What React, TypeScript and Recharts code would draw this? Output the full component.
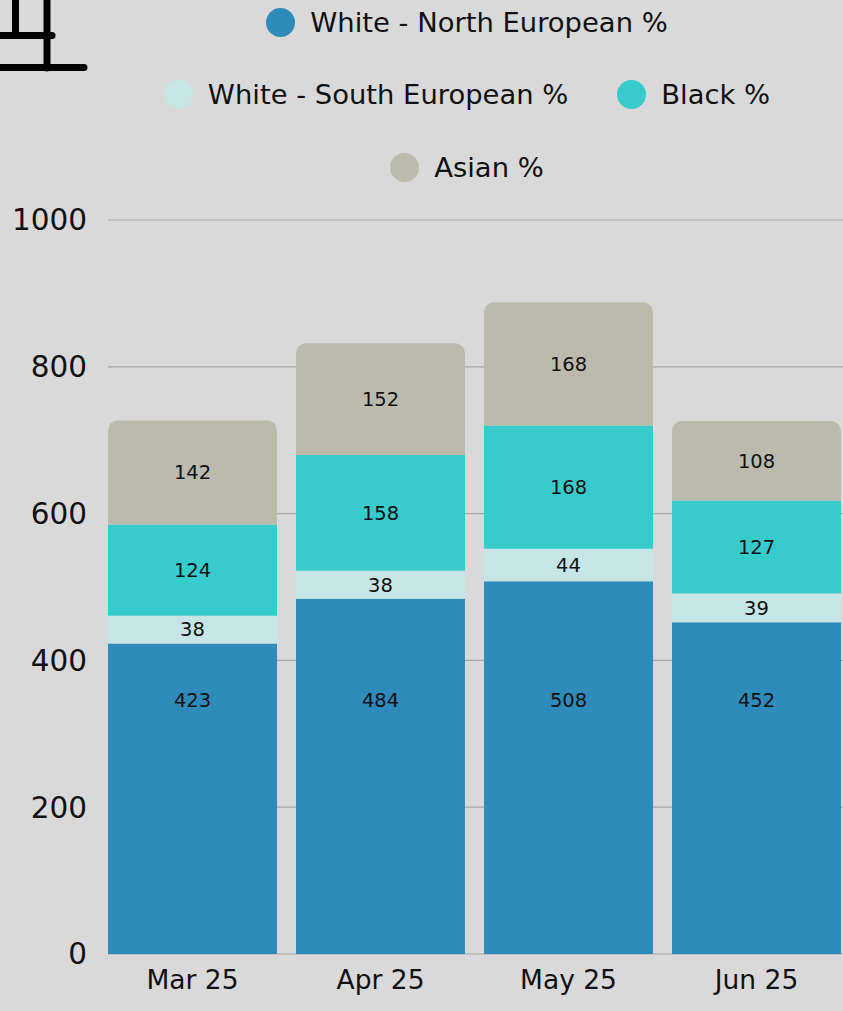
import React from "react";
import { BarChart, Bar, XAxis, YAxis, CartesianGrid, LabelList } from "recharts";

const months = ["Mar 25", "Apr 25", "May 25", "Jun 25"];
const northEuropean = [423, 484, 508, 452];
const southEuropean = [38, 38, 44, 39];
const black = [124, 158, 168, 127];
const asian = [142, 152, 168, 108];
const yTicks = [0, 200, 400, 600, 800, 1000];
// the first series' labels all sit at the same height in the reference
const northLabelLevel = 346;

const seriesNames = ["White - North European %", "White - South European %", "Black %", "Asian %"];
const seriesKeys = ["north", "south", "black", "asian"];
const seriesColors = ["#2E8BBA", "#C6E5E7", "#38CBCB", "#BCBAAD"];
const legendRows = [[0], [1, 2], [3]];

const data = months.map((m, i) => ({
  month: m,
  north: northEuropean[i],
  south: southEuropean[i],
  black: black[i],
  asian: asian[i],
}));

const FONT = "'DejaVu Sans', sans-serif";

const NorthLabel = (props: any) => {
  const { x, y, width, height, value } = props;
  const bottom = y + height;
  const perUnit = height / value;
  const ly = bottom - northLabelLevel * perUnit;
  return (
    <text
      x={x + width / 2}
      y={ly}
      textAnchor="middle"
      dominantBaseline="central"
      fill="#111"
      fontSize={19.5}
      fontFamily={FONT}
    >
      {value}
    </text>
  );
};

export default function App() {
  return (
    <div style={{ position: "fixed", left: 0, top: 0, width: 843, height: 1011, background: "#D9D9D9", overflow: "hidden" }}>
      <style>{`html, body { overflow: hidden; background: #D9D9D9; }`}</style>
      <svg width={100} height={80} style={{ position: "absolute", left: 0, top: 0, zIndex: 5 }}>
        <g stroke="#000" strokeWidth={7} strokeLinecap="round" fill="none">
          <line x1={15.5} y1={-6} x2={15.5} y2={35} />
          <line x1={47} y1={-6} x2={47} y2={68} />
          <line x1={-6} y1={35.5} x2={52} y2={35.5} />
          <line x1={-6} y1={67.5} x2={84} y2={67.5} />
        </g>
      </svg>
      <div style={{ position: "absolute", left: 8, top: 8, width: 920, height: 1003 }}>
        <div
          style={{
            position: "absolute",
            left: 0,
            top: 0,
            width: 918,
            fontFamily: FONT,
            fontSize: 27.4,
            color: "#111",
          }}
        >
          {legendRows.map((row, ri) => (
            <div
              key={ri}
              style={{
                position: "absolute",
                left: 0,
                width: 918,
                top: 14 + ri * 72.5 - 18,
                height: 36,
                display: "flex",
                justifyContent: "center",
                alignItems: "center",
                gap: 49,
              }}
            >
              {row.map((si) => (
                <div key={si} style={{ display: "flex", alignItems: "center", whiteSpace: "nowrap" }}>
                  <div
                    style={{
                      width: 29,
                      height: 29,
                      borderRadius: "50%",
                      background: seriesColors[si],
                      marginRight: 15,
                    }}
                  />
                  <span>{seriesNames[si]}</span>
                </div>
              ))}
            </div>
          ))}
        </div>
        <BarChart
          width={920}
          height={1003}
          data={data}
          margin={{ top: 212, right: 77.5, bottom: 7, left: 0 }}
          barCategoryGap={9.5}
        >
          <CartesianGrid vertical={false} stroke="#A6A6A6" strokeWidth={1.2} />
          <XAxis
            dataKey="month"
            axisLine={false}
            tickLine={false}
            tickSize={0}
            tickMargin={16}
            height={50}
            padding={{ left: -9.5, right: 0 }}
            tick={{ fill: "#111", fontSize: 26.5, fontFamily: FONT }}
          />
          <YAxis
            domain={[0, 1000]}
            ticks={yTicks}
            axisLine={false}
            tickLine={false}
            tickSize={0}
            tickMargin={21}
            width={100}
            tick={{ fill: "#111", fontSize: 29.5, fontFamily: FONT }}
          />
          {seriesKeys.map((k, i) => (
            <Bar
              key={k}
              dataKey={k}
              stackId="a"
              fill={seriesColors[i]}
              isAnimationActive={false}
              radius={i === seriesKeys.length - 1 ? [10, 10, 0, 0] : 0}
            >
              {i === 0 ? (
                <LabelList dataKey={k} content={NorthLabel} />
              ) : (
                <LabelList
                  dataKey={k}
                  position="center"
                  fill="#111"
                  fontSize={19.5}
                  fontFamily={FONT}
                />
              )}
            </Bar>
          ))}
        </BarChart>
      </div>
    </div>
  );
}
